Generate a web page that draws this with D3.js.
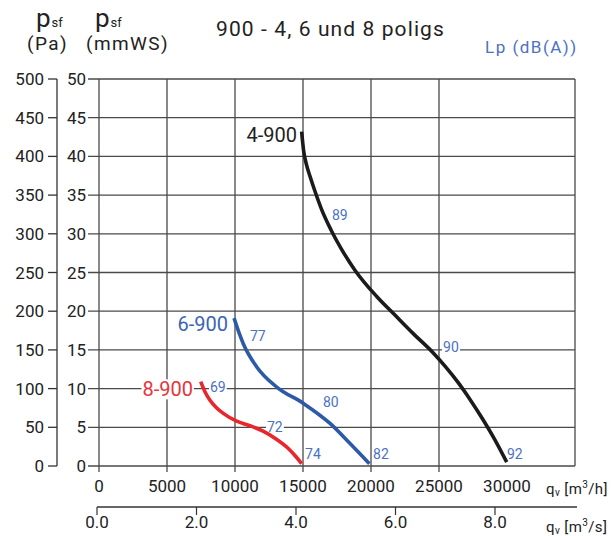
<!DOCTYPE html>
<html>
<head>
<meta charset="utf-8">
<script src="https://cdn.jsdelivr.net/npm/d3@7"></script>
<style>
body { margin: 0; background: #fff; }
text { font-family: Roboto, "Noto Sans", sans-serif; }
</style>
</head>
<body>
<svg id="chart" width="616" height="536"></svg>
<script>
// flow in m3/h, pressure in Pa
const flowTicks = [0, 5000, 10000, 15000, 20000, 25000, 30000];
const flowGrid = [0, 5000, 10000, 15000, 20000, 25000, 35000];
const flowSecTicks = [0, 2, 4, 6, 8];
const paTicks = [0, 50, 100, 150, 200, 250, 300, 350, 400, 450, 500];
const mmTicks = [0, 5, 10, 15, 20, 25, 30, 35, 40, 45, 50];

const curve4q = [14900, 15040, 15260, 15520, 15880, 16380, 17060, 17870, 18820, 20420, 21760, 23110, 24580, 25440, 26400, 27280, 28160, 29040, 29980];
const curve4p = [432, 408, 389, 374, 355, 331, 305, 279, 253, 219, 195, 171, 146, 129, 108, 86, 62, 36, 5];
const curve6q = [9930, 10320, 10610, 11600, 13070, 15020, 16990, 18460, 19880];
const curve6p = [191, 171, 158, 128, 102, 81, 55, 29, 3];
const curve8q = [7480, 7790, 8160, 8600, 9140, 10120, 11100, 12060, 13020, 13900, 14490, 14900];
const curve8p = [109, 96, 85, 76, 68, 58, 52, 45, 35, 23, 12, 3];

const curveNames = ['4-900', '6-900', '8-900'];
const curveNameQ = [14560, 9490, 6910];
const curveNameP = [419, 174, 90];

const dbText = ['69', '72', '74', '77', '80', '82', '89', '90', '92'];
const dbQ = [8160, 12350, 15150, 11100, 16470, 20150, 17130, 25300, 30000];
const dbP = [95, 44, 9, 161, 76, 9, 318, 147, 9];

const colors = ['#1b1b1b', '#2d5aa8', '#e8262b'];
const nameColors = ['#222', '#3a64b4', '#e8333a'];
const blueText = '#4a72c2';
const ink = '#222';
const gridColor = '#4a4a4a';

const svg = d3.select('#chart');

const x = d3.scaleLinear().domain([0, 35000]).range([99, 575]);
const xs = d3.scaleLinear().domain([0, 8]).range([97, 495]);
const y = d3.scaleLinear().domain([0, 500]).range([466, 79]);

// grid
svg.append('g')
    .selectAll('line')
    .data(flowGrid)
    .join('line')
    .attr('x1', d => x(d)).attr('x2', d => x(d))
    .attr('y1', y(500)).attr('y2', d => d === 35000 ? y(0) : y(0) + 6)
    .attr('stroke', gridColor)
    .attr('stroke-width', 1.3);

svg.append('g')
    .selectAll('line')
    .data(mmTicks)
    .join('line')
    .attr('x1', x(0) - 11).attr('x2', x(35000))
    .attr('y1', d => y(d * 10)).attr('y2', d => y(d * 10))
    .attr('stroke', gridColor)
    .attr('stroke-width', 1.3);

// mmWS labels
svg.append('g')
    .selectAll('text')
    .data(mmTicks)
    .join('text')
    .attr('x', x(0) - 13)
    .attr('y', d => y(d * 10) + 6)
    .attr('text-anchor', 'end')
    .attr('font-size', 17)
    .attr('fill', ink)
    .text(d => d);

// Pa axis
const paAxis = 57;
svg.append('line')
    .attr('x1', paAxis).attr('x2', paAxis)
    .attr('y1', y(500)).attr('y2', y(0))
    .attr('stroke', '#333').attr('stroke-width', 1.3);
svg.append('g')
    .selectAll('line')
    .data(paTicks)
    .join('line')
    .attr('x1', paAxis - 9).attr('x2', paAxis)
    .attr('y1', d => y(d)).attr('y2', d => y(d))
    .attr('stroke', '#333').attr('stroke-width', 1.3);
svg.append('g')
    .selectAll('text')
    .data(paTicks)
    .join('text')
    .attr('x', paAxis - 13)
    .attr('y', d => y(d) + 6)
    .attr('text-anchor', 'end')
    .attr('font-size', 17)
    .attr('fill', ink)
    .text(d => d);

// flow m3/h labels
svg.append('g')
    .selectAll('text')
    .data(flowTicks)
    .join('text')
    .attr('x', d => x(d))
    .attr('y', y(0) + 26)
    .attr('text-anchor', 'middle')
    .attr('font-size', 17)
    .attr('fill', ink)
    .text(d => d);

// flow m3/s axis
const secY = 507;
svg.append('line')
    .attr('x1', xs(0)).attr('x2', x(35000) + 2)
    .attr('y1', secY).attr('y2', secY)
    .attr('stroke', '#333').attr('stroke-width', 1.3);
svg.append('g')
    .selectAll('line')
    .data(flowSecTicks)
    .join('line')
    .attr('x1', d => xs(d)).attr('x2', d => xs(d))
    .attr('y1', secY).attr('y2', secY + 8)
    .attr('stroke', '#333').attr('stroke-width', 1.2);
svg.append('g')
    .selectAll('text')
    .data(flowSecTicks)
    .join('text')
    .attr('x', d => xs(d))
    .attr('y', secY + 21)
    .attr('text-anchor', 'middle')
    .attr('font-size', 17)
    .attr('fill', ink)
    .text(d => d.toFixed(1));

// axis unit labels
const unitLabel = (yy, unit) => {
    const t = svg.append('text')
        .attr('x', 546).attr('y', yy)
        .attr('font-size', 15)
        .attr('letter-spacing', 0.4)
        .attr('fill', ink);
    t.append('tspan').text('q');
    t.append('tspan').attr('font-size', 10).attr('dy', 2).text('v');
    t.append('tspan').attr('dy', -2).text(' [m');
    t.append('tspan').attr('font-size', 10).attr('dy', -6).text('3');
    t.append('tspan').attr('dy', 6).text('/' + unit + ']');
};
unitLabel(494, 'h');
unitLabel(532, 's');

// header
const header = (xx, unit) => {
    const t = svg.append('text')
        .attr('x', xx).attr('y', 27)
        .attr('fill', ink);
    t.append('tspan').attr('font-size', 26).text('p');
    t.append('tspan').attr('font-size', 13).attr('dx', 1).text('sf');
    svg.append('text')
        .attr('x', xx - 9).attr('y', 50)
        .attr('font-size', 19)
        .attr('letter-spacing', 1.4)
        .attr('fill', ink)
        .text(unit);
};
header(36, '(Pa)');
header(95, '(mmWS)');

svg.append('text')
    .attr('x', 216).attr('y', 36)
    .attr('font-size', 21)
    .attr('letter-spacing', 1.1)
    .attr('fill', ink)
    .text('900 - 4, 6 und 8 poligs');

svg.append('text')
    .attr('x', 485).attr('y', 53)
    .attr('font-size', 17)
    .attr('letter-spacing', 1.5)
    .attr('fill', blueText)
    .text('Lp (dB(A))');

// labels with white background
const labelWithBg = (g, tx, ty, str, size, color, anchor) => {
    const t = g.append('text')
        .attr('x', tx).attr('y', ty)
        .attr('text-anchor', anchor)
        .attr('font-size', size)
        .attr('fill', color)
        .text(str);
    const b = t.node().getBBox();
    g.insert('rect', 'text')
        .attr('x', b.x - 1).attr('y', b.y + 2)
        .attr('width', b.width + 2).attr('height', b.height - 4)
        .attr('fill', '#fff');
};

const nameG = svg.append('g');
curveNames.forEach((n, i) => {
    labelWithBg(nameG, x(curveNameQ[i]), y(curveNameP[i]), n, 20, nameColors[i], 'end');
});

const dbG = svg.append('g');
dbText.forEach((s, i) => {
    labelWithBg(dbG, x(dbQ[i]), y(dbP[i]), s, 14, blueText, 'start');
});

// curves (on top)
const line = d3.line()
    .x(d => x(d[0]))
    .y(d => y(d[1]))
    .curve(d3.curveMonotoneX);

const curves = [
    d3.zip(curve4q, curve4p),
    d3.zip(curve6q, curve6p),
    d3.zip(curve8q, curve8p)
];

svg.append('g')
    .selectAll('path')
    .data(curves)
    .join('path')
    .attr('d', d => line(d))
    .attr('fill', 'none')
    .attr('stroke', (d, i) => colors[i])
    .attr('stroke-width', 3.6);
</script>
</body>
</html>
